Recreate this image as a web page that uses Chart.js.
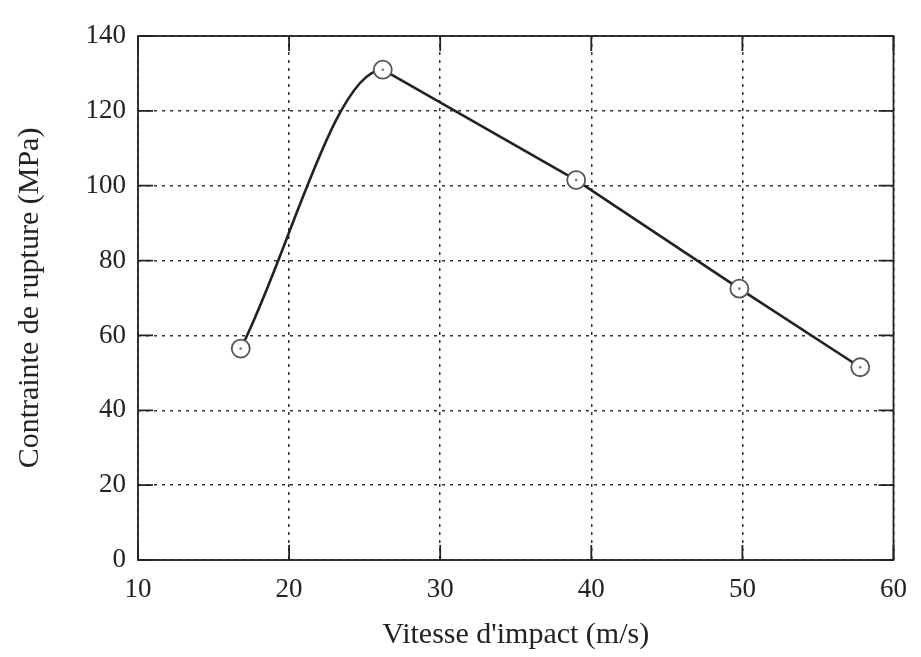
<!DOCTYPE html>
<html>
<head>
<meta charset="utf-8">
<script src="https://cdn.jsdelivr.net/npm/chart.js@4.4.1/dist/chart.umd.min.js"></script>
<style>
  html, body { margin: 0; padding: 0; background: #fff; }
  #wrap { width: 921px; height: 657px; }
</style>
</head>
<body>
<div id="wrap"><canvas id="chart"></canvas></div>
<script>
// impact speed (m/s) and fracture stress (MPa)
var vitesse = [16.8, 26.2, 39.0, 49.8, 57.8];
var contrainte = [56.5, 131.0, 101.5, 72.5, 51.5];

var xTicks = [10, 20, 30, 40, 50, 60];
var yTicks = [0, 20, 40, 60, 80, 100, 120, 140];

var serif = "'Liberation Serif', 'DejaVu Serif', serif";
var ink = "#222";

function pts(xs, ys) {
  return xs.map(function (x, i) { return {x: x, y: ys[i]}; });
}

// curved rise to the peak (monotone gives a flat top), then straight lines
var rise = pts(vitesse.slice(0, 3), contrainte.slice(0, 3));
var fall = pts(vitesse.slice(1), contrainte.slice(1));

// frame + inward tick marks, like the printed figure
var frame = {
  id: "frame",
  afterDatasetsDraw: function (chart) {
    var c = chart.ctx, a = chart.chartArea;
    var xs = chart.scales.x, ys = chart.scales.y;
    c.save();
    c.strokeStyle = ink;
    c.lineWidth = 1.8;
    c.strokeRect(a.left, a.top, a.right - a.left, a.bottom - a.top);
    c.lineWidth = 1.8;
    c.beginPath();
    xTicks.forEach(function (v) {
      var px = xs.getPixelForValue(v);
      c.moveTo(px, a.bottom); c.lineTo(px, a.bottom - 15);
      c.moveTo(px, a.top); c.lineTo(px, a.top + 15);
    });
    yTicks.forEach(function (v) {
      var py = ys.getPixelForValue(v);
      c.moveTo(a.left, py); c.lineTo(a.left + 15, py);
      c.moveTo(a.right, py); c.lineTo(a.right - 15, py);
    });
    c.stroke();
    c.restore();
  }
};

new Chart(document.getElementById("chart"), {
  type: "line",
  data: {
    datasets: [{
      data: rise,
      borderColor: ink,
      borderWidth: 2.6,
      cubicInterpolationMode: "monotone",
      pointRadius: 0,
      segment: {
        borderColor: function (ctx) { return ctx.p0DataIndex === 1 ? "rgba(0,0,0,0)" : ink; }
      },
      order: 3
    }, {
      data: fall,
      borderColor: ink,
      borderWidth: 2.6,
      tension: 0,
      pointRadius: 0,
      order: 2
    }, {
      data: pts(vitesse, contrainte),
      showLine: false,
      pointRadius: 9,
      pointBorderWidth: 1.8,
      pointBorderColor: "#555",
      pointBackgroundColor: "#fff",
      order: 1
    }, {
      data: pts(vitesse, contrainte),
      showLine: false,
      pointRadius: 1.3,
      pointBorderWidth: 0,
      pointBackgroundColor: "#777",
      order: 0
    }]
  },
  options: {
    responsive: true,
    maintainAspectRatio: false,
    animation: false,
    layout: {padding: {top: 36, right: 22, left: 8, bottom: 0}},
    plugins: {legend: {display: false}, tooltip: {enabled: false}},
    scales: {
      x: {
        type: "linear",
        min: 10, max: 60,
        afterBuildTicks: function (s) { s.ticks = xTicks.map(function (v) { return {value: v}; }); },
        afterFit: function (s) { s.height = 97; },
        grid: {color: "#333", lineWidth: 1.5, drawTicks: false},
        border: {display: false, dash: [3, 5]},
        ticks: {color: ink, padding: 14, font: {family: serif, size: 27}},
        title: {display: true, text: "Vitesse d'impact (m/s)", color: ink,
                font: {family: serif, size: 30}, padding: {top: 6}}
      },
      y: {
        min: 0, max: 140,
        afterBuildTicks: function (s) { s.ticks = yTicks.map(function (v) { return {value: v}; }); },
        afterFit: function (s) { s.width = 130; },
        grid: {color: "#333", lineWidth: 1.5, drawTicks: false},
        border: {display: false, dash: [3, 5]},
        ticks: {color: ink, padding: 12, font: {family: serif, size: 27}},
        title: {display: true, text: "Contrainte de rupture (MPa)", color: ink,
                font: {family: serif, size: 30}, padding: {bottom: 4}}
      }
    }
  },
  plugins: [frame]
});
</script>
</body>
</html>
